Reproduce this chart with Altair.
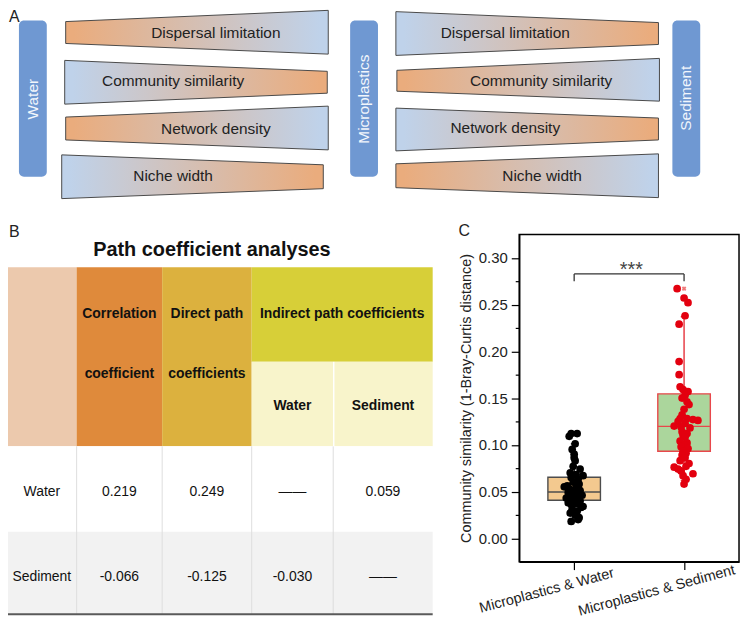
import altair as alt
import pandas as pd

FONT = "Liberation Sans"
INK = "#222222"

# ---------------- Panel A : trade-off diagram ----------------
trap_text = ["Dispersal limitation", "Community similarity", "Network density", "Niche width",
             "Dispersal limitation", "Community similarity", "Network density", "Niche width"]
trap_x0 = [66, 65, 66, 62, 398, 399, 398, 398]
trap_x1 = [330, 329, 330, 325, 662, 663, 662, 662]
trap_left_top = [24, 63, 120, 158, 14, 73, 111, 167]
trap_left_bot = [46, 107, 143, 202, 58, 94, 154, 191]
trap_right_top = [12.7, 74, 109, 168, 25, 61, 121, 157]
trap_right_bot = [56.7, 96, 153, 192, 47, 104, 143, 201]
trap_label_x = [217, 174, 217, 174, 508, 544, 508, 545]
trap_label_y = [36, 84, 132, 179, 35, 84, 131, 179]

bar_names = ["Water", "Microplastics", "Sediment"]
bar_x0 = [19, 352, 676]
bar_x1 = [47, 380, 704]
bar_top = [23, 23, 23]
bar_bot = [180, 180, 180]
bar_label_y = [102, 102, 101]

panel_letters = ["A", "B", "C"]
panel_letter_x = [9, 9, 461]
panel_letter_y = [19, 236, 235]

# ---------------- Panel B : path coefficient table ----------------
table_title = "Path coefficient analyses"
cell_x0 = [8, 77, 163, 253, 253, 336, 8, 8]
cell_x1 = [77, 163, 253, 435, 335, 435, 435, 435]
cell_y0 = [271, 271, 271, 271, 366, 366, 451, 537]
cell_y1 = [451, 451, 451, 366, 451, 451, 537, 620]
cell_fill = ["#ecc9ad", "#df8a3b", "#dcb13e", "#d7cf38", "#f8f4cb", "#f8f4cb", "#ffffff", "#f2f2f2"]

hdr_text = ["Correlation", "coefficient", "Direct path", "coefficients",
            "Indirect path coefficients", "Water", "Sediment"]
hdr_x = [120, 120, 208, 208, 344, 294, 385]
hdr_y = [318, 378, 318, 378, 318, 411, 411]

row_names = ["Water", "Sediment"]
correlation = ["0.219", "-0.066"]
direct_path = ["0.249", "-0.125"]
indirect_water = ["\u2014\u2014", "-0.030"]
indirect_sediment = ["0.059", "\u2014\u2014"]
col_centers = [42, 120, 208, 294, 385]
row_centers = [497, 582]
grid_x = [77, 163, 253, 335]

# ---------------- Panel C : box plot ----------------
categories = ["Microplastics & Water", "Microplastics & Sediment"]
cat_pos = [1, 2]
box_q1 = [0.0406, 0.0931]
box_med = [0.0495, 0.1197]
box_q3 = [0.0653, 0.1545]
whisk_lo = [0.018, 0.062]
whisk_hi = [0.101, 0.237]
box_fill = ["#f3c98f", "#abd69c"]
box_edge = ["#4d4d4d", "#e8474b"]
whisk_col = ["#000000", "#e3212b"]

water_sim = [0.112, 0.112, 0.109, 0.101, 0.095, 0.090, 0.086, 0.083, 0.077, 0.074, 0.070, 0.068,
             0.067, 0.065, 0.063, 0.060, 0.058, 0.056, 0.055, 0.054, 0.052, 0.051, 0.050, 0.049,
             0.048, 0.047, 0.046, 0.045, 0.044, 0.043, 0.042, 0.041, 0.040, 0.038, 0.037, 0.036,
             0.034, 0.033, 0.031, 0.029, 0.027, 0.025, 0.022, 0.020, 0.018]
water_jit = [-0.027, 0.027, -0.045, 0.009, -0.018, 0.0, 0.0, 0.009, -0.009, 0.054, -0.036, 0.018,
             0.081, -0.027, 0.036, -0.009, 0.045, -0.063, -0.09, 0.018, -0.036, 0.054, 0.0, -0.054,
             0.027, -0.018, 0.072, -0.045, 0.009, -0.072, 0.036, -0.009, 0.054, -0.054, 0.018, -0.027,
             0.081, 0.063, -0.018, 0.027, -0.036, 0.009, 0.045, 0.036, -0.027]
sed_sim = [0.267, 0.257, 0.252, 0.238, 0.229, 0.189, 0.175, 0.162, 0.159, 0.157, 0.153, 0.150,
           0.146, 0.143, 0.138, 0.132, 0.128, 0.128, 0.127, 0.126, 0.125, 0.123, 0.120, 0.119,
           0.118, 0.114, 0.112, 0.110, 0.108, 0.104, 0.102, 0.100, 0.098, 0.096, 0.093, 0.091,
           0.089, 0.086, 0.083, 0.080, 0.077, 0.076, 0.074, 0.072, 0.069, 0.067, 0.063, 0.058]
sed_jit = [-0.063, 0.0, 0.036, 0.009, -0.045, -0.045, -0.045, -0.036, -0.009, 0.036, 0.009, -0.018,
           0.027, 0.045, 0.0, -0.018, -0.036, 0.027, 0.081, 0.126, -0.054, 0.009, -0.09, -0.027,
           0.054, -0.018, 0.027, -0.009, 0.009, -0.036, 0.027, 0.0, -0.027, 0.036, -0.009, 0.018,
           -0.018, 0.009, -0.036, 0.045, 0.018, -0.09, -0.054, -0.027, 0.081, -0.009, 0.018, 0.0]
outlier_sim = [0.267]
bracket_x = [1, 2]
bracket_top = 0.2828
bracket_foot = 0.275
star_label = "***"
star_y = 0.280
y_tick_values = [0.0, 0.025, 0.05, 0.075, 0.1, 0.125, 0.15, 0.175, 0.2, 0.225, 0.25, 0.275, 0.3]

# ================= scales =================
PX = alt.Scale(domain=[0, 750], range=[-522, 228], nice=False, zero=False)
PY = alt.Scale(domain=[0, 631], range=[-238, 393], nice=False, zero=False)


def px(f):
    return alt.X(f, type="quantitative", scale=PX, axis=None)


def py(f):
    return alt.Y(f, type="quantitative", scale=PY, axis=None)


ORANGE = "#eaac7d"
BLUE = "#bfd2ea"

page = []

# trapezoids
for i in range(len(trap_text)):
    left_h = trap_left_bot[i] - trap_left_top[i]
    right_h = trap_right_bot[i] - trap_right_top[i]
    if left_h < right_h:
        stops = [alt.GradientStop(color=ORANGE, offset=0.03), alt.GradientStop(color=BLUE, offset=0.97)]
    else:
        stops = [alt.GradientStop(color=BLUE, offset=0.03), alt.GradientStop(color=ORANGE, offset=0.97)]
    grad = alt.Gradient(gradient="linear", stops=stops, x1=0, x2=1, y1=0, y2=0)
    df = pd.DataFrame({"x": [trap_x0[i], trap_x1[i]],
                       "top": [trap_left_top[i], trap_right_top[i]],
                       "bot": [trap_left_bot[i], trap_right_bot[i]]})
    page.append(alt.Chart(df).mark_area(orient="vertical", fill=grad, stroke="#4a4a4a",
                                        strokeWidth=1, opacity=1).encode(
        x=px("x"), y=py("top"), y2="bot:Q"))

trap_df = pd.DataFrame({"t": trap_text, "x": trap_label_x, "y": trap_label_y})
page.append(alt.Chart(trap_df).mark_text(font=FONT, fontSize=15.5, color=INK, align="center",
                                         baseline="middle").encode(x=px("x"), y=py("y"), text="t:N"))

bars_df = pd.DataFrame({"n": bar_names, "x0": bar_x0, "x1": bar_x1, "y0": bar_top, "y1": bar_bot,
                        "ly": bar_label_y})
bars_df["lx"] = [(a + b) / 2 for a, b in zip(bar_x0, bar_x1)]
page.append(alt.Chart(bars_df).mark_rect(cornerRadius=5, color="#6f98d2").encode(
    x=px("x0"), x2="x1:Q", y=py("y0"), y2="y1:Q"))
page.append(alt.Chart(bars_df).mark_text(font=FONT, fontSize=15.5, color="#f2f6fc", angle=270,
                                         align="center", baseline="middle").encode(
    x=px("lx"), y=py("ly"), text="n:N"))

letters_df = pd.DataFrame({"t": panel_letters, "x": panel_letter_x, "y": panel_letter_y})
page.append(alt.Chart(letters_df).mark_text(font=FONT, fontSize=16, color=INK, align="left",
                                            baseline="middle").encode(x=px("x"), y=py("y"), text="t:N"))

# table
title_df = pd.DataFrame({"t": [table_title], "x": [213], "y": [254]})
page.append(alt.Chart(title_df).mark_text(font=FONT, fontSize=20, fontWeight="bold", color="#111",
                                          align="center", baseline="middle").encode(
    x=px("x"), y=py("y"), text="t:N"))

cells_df = pd.DataFrame({"x0": cell_x0, "x1": cell_x1, "y0": cell_y0, "y1": cell_y1, "c": cell_fill})
page.append(alt.Chart(cells_df).mark_rect().encode(
    x=px("x0"), x2="x1:Q", y=py("y0"), y2="y1:Q", fill=alt.Fill("c:N", scale=None)))

grid_df = pd.DataFrame({"x": grid_x, "y0": [451] * 4, "y1": [620] * 4})
page.append(alt.Chart(grid_df).mark_rule(color="#dedede", strokeWidth=1).encode(
    x=px("x"), y=py("y0"), y2="y1:Q"))
sep_df = pd.DataFrame({"x": [335.5], "y0": [366], "y1": [451]})
page.append(alt.Chart(sep_df).mark_rule(color="#ffffff", strokeWidth=1.2).encode(
    x=px("x"), y=py("y0"), y2="y1:Q"))
bottom_df = pd.DataFrame({"x0": [8], "x1": [435], "y": [620]})
page.append(alt.Chart(bottom_df).mark_rule(color="#5a5a5a", strokeWidth=2).encode(
    x=px("x0"), x2="x1:Q", y=py("y")))

hdr_df = pd.DataFrame({"t": hdr_text, "x": hdr_x, "y": hdr_y})
page.append(alt.Chart(hdr_df).mark_text(font=FONT, fontSize=14, fontWeight="bold", color="#111",
                                        align="center", baseline="middle").encode(
    x=px("x"), y=py("y"), text="t:N"))

body_t, body_x, body_y = [], [], []
for r in range(2):
    vals = [row_names[r], correlation[r], direct_path[r], indirect_water[r], indirect_sediment[r]]
    for c in range(5):
        body_t.append(vals[c])
        body_x.append(col_centers[c])
        body_y.append(row_centers[r])
body_df = pd.DataFrame({"t": body_t, "x": body_x, "y": body_y})
page.append(alt.Chart(body_df).mark_text(font=FONT, fontSize=14, color="#111", align="center",
                                         baseline="middle").encode(x=px("x"), y=py("y"), text="t:N"))

page_layer = alt.layer(*page)

# ================= Panel C =================
XS = alt.Scale(domain=[0.5, 2.5], nice=False, zero=False)
YS = alt.Scale(domain=[-0.025, 0.325], nice=False, zero=False)
major = "round(datum.value * 1000) % 50 === 0"
label_js = "datum.value === 1 ? '" + categories[0] + "' : '" + categories[1] + "'"

x_axis = alt.Axis(values=cat_pos, labelExpr=label_js, labelAngle=345, labelAlign="center",
                  labelBaseline="middle", labelOffset=-28, labelPadding=21, tickSize=8,
                  tickColor="#000", tickWidth=1.2, domainColor="#000", domainWidth=1.5,
                  labelFontSize=14.5, labelColor=INK, labelFont=FONT, grid=False, title="",
                  labelOverlap=False, labelFlush=False)
y_axis = alt.Axis(values=y_tick_values,
                  labelExpr=major + " ? format(datum.value, '.2f') : ''",
                  tickSize={"condition": {"test": major, "value": 8}, "value": 4},
                  title="Community similarity (1-Bray-Curtis distance)", titleFontSize=14.5,
                  titleFontWeight="normal", titleColor=INK, titleFont=FONT, titlePadding=5,
                  labelFontSize=15, labelColor=INK, labelFont=FONT, labelPadding=4,
                  tickColor="#000", tickWidth=1.2, domainColor="#000", domainWidth=1.5,
                  grid=False, labelOverlap=False, labelFlush=False)


def cx(f):
    return alt.X(f, type="quantitative", scale=XS, axis=x_axis)


def cy(f):
    return alt.Y(f, type="quantitative", scale=YS, axis=y_axis)


box_df = pd.DataFrame({"cat": cat_pos, "q1": box_q1, "med": box_med, "q3": box_q3,
                       "wlo": whisk_lo, "whi": whisk_hi, "fill": box_fill, "edge": box_edge,
                       "wcol": whisk_col})
base_box = alt.Chart(box_df).transform_calculate(
    xl="datum.cat - 0.239", xr="datum.cat + 0.239", cl="datum.cat - 0.03", cr="datum.cat + 0.03")

c_parts = []
c_parts.append(base_box.mark_rect(strokeWidth=1.4, opacity=1).encode(
    x=cx("xl"), x2="xr:Q", y=cy("q1"), y2="q3:Q",
    fill=alt.Fill("fill:N", scale=None), stroke=alt.Stroke("edge:N", scale=None)))
c_parts.append(base_box.mark_rule(strokeWidth=1.3).encode(
    x=cx("xl"), x2="xr:Q", y=cy("med"), color=alt.Color("edge:N", scale=None)))
c_parts.append(base_box.mark_rule(strokeWidth=1.3).encode(
    x=cx("cat"), y=cy("q3"), y2="whi:Q", color=alt.Color("wcol:N", scale=None)))
c_parts.append(base_box.mark_rule(strokeWidth=1.3).encode(
    x=cx("cat"), y=cy("wlo"), y2="q1:Q", color=alt.Color("wcol:N", scale=None)))
c_parts.append(base_box.mark_rule(strokeWidth=1.3).encode(
    x=cx("cl"), x2="cr:Q", y=cy("whi"), color=alt.Color("wcol:N", scale=None)))
c_parts.append(base_box.mark_rule(strokeWidth=1.3).encode(
    x=cx("cl"), x2="cr:Q", y=cy("wlo"), color=alt.Color("wcol:N", scale=None)))

br_h = pd.DataFrame({"x0": [bracket_x[0]], "x1": [bracket_x[1]], "y": [bracket_top]})
c_parts.append(alt.Chart(br_h).mark_rule(color="#333333", strokeWidth=1.3).encode(
    x=cx("x0"), x2="x1:Q", y=cy("y")))
br_v = pd.DataFrame({"x": bracket_x, "top": [bracket_top] * 2, "foot": [bracket_foot] * 2})
c_parts.append(alt.Chart(br_v).mark_rule(color="#333333", strokeWidth=1.3).encode(
    x=cx("x"), y=cy("top"), y2="foot:Q"))
star_df = pd.DataFrame({"t": [star_label], "x": [sum(bracket_x) / 2 + 0.02], "y": [star_y]})
c_parts.append(alt.Chart(star_df).mark_text(font=FONT, fontSize=20, color="#444444",
                                            align="center", baseline="alphabetic").encode(
    x=cx("x"), y=cy("y"), text="t:N"))

water_df = pd.DataFrame({"sim": water_sim, "jit": water_jit})
c_parts.append(alt.Chart(water_df).transform_calculate(xp="1 + datum.jit").mark_circle(
    size=60, opacity=1, color="#000000").encode(x=cx("xp"), y=cy("sim")))
sed_df = pd.DataFrame({"sim": sed_sim, "jit": sed_jit})
c_parts.append(alt.Chart(sed_df).transform_calculate(xp="2 + datum.jit").mark_circle(
    size=60, opacity=1, color="#e3000f").encode(x=cx("xp"), y=cy("sim")))
out_df = pd.DataFrame({"sim": outlier_sim, "cat": [2]})
c_parts.append(alt.Chart(out_df).mark_point(shape="cross", angle=45, size=22, filled=True,
                                            opacity=1, color="#f07a7a").encode(
    x=cx("cat"), y=cy("sim")))

c_layer = alt.layer(*c_parts)

chart = alt.layer(c_layer, page_layer).resolve_scale(
    x="independent", y="independent"
).properties(
    width=221, height=329,
    autosize=alt.AutoSizeParams(type="none"),
    padding={"left": 514, "top": 226, "right": 3, "bottom": 55},
    background="white",
).configure_view(stroke="#000000", strokeWidth=1.5)

chart.save("out.html", embed_options={"renderer": "svg", "actions": False})
